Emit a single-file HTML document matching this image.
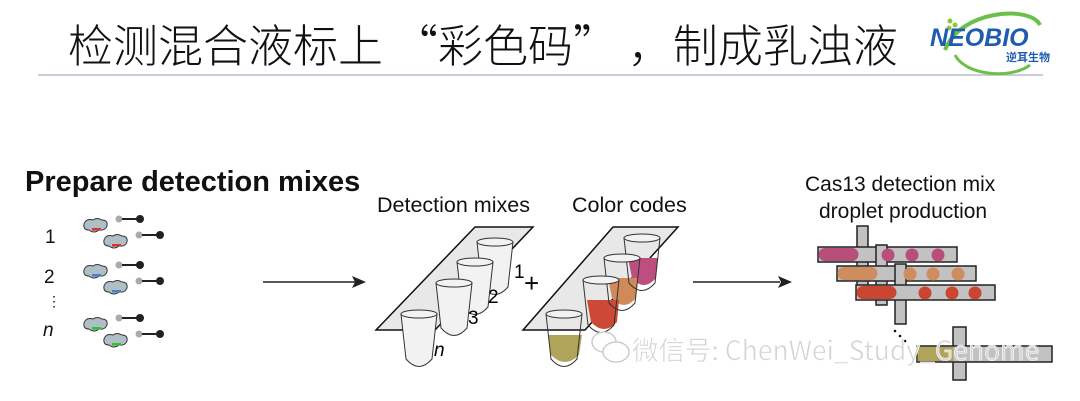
<!DOCTYPE html>
<html><head><meta charset="utf-8"><style>
html,body{margin:0;padding:0;background:#fff;}
svg{display:block;font-family:"Liberation Sans","Noto Sans CJK SC",sans-serif;}
</style></head><body>
<svg width="1080" height="401" viewBox="0 0 1080 401" xmlns="http://www.w3.org/2000/svg">
<text x="68" y="62" font-size="45" font-family="'Noto Sans CJK SC',sans-serif" font-weight="300" fill="#111">检测混合液标上 “彩色码” ，制成乳浊液</text>
<line x1="38" y1="75" x2="1043" y2="75" stroke="#b8bccc" stroke-width="1.5"/>
<!-- logo -->
<path d="M945,50 C960,10 1030,5 1040,25" fill="none" stroke="#6cc04a" stroke-width="4"/>
<path d="M955,55 C965,75 1010,80 1030,65" fill="none" stroke="#6cc04a" stroke-width="3"/>
<circle cx="950" cy="21" r="2.5" fill="#8cc63f"/><circle cx="955" cy="25" r="2.5" fill="#8cc63f"/><circle cx="949" cy="28" r="2.5" fill="#8cc63f"/>
<text x="930" y="46" font-size="25" font-weight="bold" font-style="italic" fill="#1f5bb0" letter-spacing="0">NEOBIO</text>
<text x="1006" y="61" font-size="11" font-weight="bold" fill="#1f5bb0" font-family="'Noto Sans CJK SC',sans-serif">逆耳生物</text>

<text x="25" y="191" font-size="29" font-weight="bold" fill="#111">Prepare detection mixes</text>
<g font-size="19" fill="#111">
<text x="45" y="243">1</text><text x="44" y="283">2</text>
<text x="47" y="306" font-size="14">⋮</text>
<text x="43" y="336" font-style="italic">n</text>
</g>
<g id="ic">
<path d="M84,224 q2,-6 9,-4 q4,-3 9,0 q6,0 5,6 q-2,5 -8,4 q-5,4 -10,0 q-6,0 -5,-6z" fill="#aebfc6" stroke="#333" stroke-width="1"/>
<circle cx="119" cy="219" r="3.5" fill="#aaa"/><line x1="122" y1="219" x2="139" y2="219" stroke="#222" stroke-width="2"/><circle cx="140" cy="219" r="4" fill="#222"/>
<path d="M104,240 q2,-6 9,-4 q4,-3 9,0 q6,0 5,6 q-2,5 -8,4 q-5,4 -10,0 q-6,0 -5,-6z" fill="#aebfc6" stroke="#333" stroke-width="1"/>
<circle cx="139" cy="235" r="3.5" fill="#aaa"/><line x1="142" y1="235" x2="158" y2="235" stroke="#222" stroke-width="2"/><circle cx="160" cy="235" r="4" fill="#222"/>
</g>
<rect x="92" y="228" width="9" height="2.5" fill="#e03030"/><rect x="112" y="244" width="9" height="2.5" fill="#e03030"/>
<use href="#ic" y="46"/><rect x="92" y="274" width="9" height="2.5" fill="#4a7fd0"/><rect x="112" y="290" width="9" height="2.5" fill="#4a7fd0"/>
<use href="#ic" y="99"/><rect x="92" y="327" width="9" height="2.5" fill="#30c030"/><rect x="112" y="343" width="9" height="2.5" fill="#30c030"/>

<line x1="263" y1="282" x2="355" y2="282" stroke="#222" stroke-width="1.5"/><path d="M366,282 l-14,-6 l3,6 l-3,6z" fill="#222"/>
<line x1="693" y1="282" x2="780" y2="282" stroke="#222" stroke-width="1.5"/><path d="M792,282 l-14,-6 l3,6 l-3,6z" fill="#222"/>

<text x="377" y="212" font-size="21.5" fill="#111">Detection mixes</text>
<text x="572" y="212" font-size="21.5" fill="#111">Color codes</text>
<text x="805" y="191" font-size="21" fill="#111">Cas13 detection mix</text>
<text x="819" y="218" font-size="21" fill="#111">droplet production</text>

<polygon points="376,330 475,227 533,227 435,330" fill="#e8e8e8" stroke="#111" stroke-width="1.5"/>
<g fill="#f2f2f2" stroke="#333" stroke-width="1">
<path d="M477,242 h36 l-5,45 q-13,15 -26,0z"/><ellipse cx="495" cy="242" rx="18" ry="4"/>
<path d="M457,262 h36 l-5,45 q-13,15 -26,0z"/><ellipse cx="475" cy="262" rx="18" ry="4"/>
<path d="M436,283 h36 l-5,45 q-13,15 -26,0z"/><ellipse cx="454" cy="283" rx="18" ry="4"/>
<path d="M401,314 h36 l-5,45 q-13,15 -26,0z"/><ellipse cx="419" cy="314" rx="18" ry="4"/>
</g>
<text x="514" y="278" font-size="19">1</text><text x="488" y="303" font-size="19">2</text><text x="468" y="324" font-size="19">3</text><text x="434" y="356" font-size="19" font-style="italic">n</text>
<text x="524" y="292" font-size="26">+</text>
<polygon points="523,330 613,227 678,227 585,330" fill="#e8e8e8" stroke="#111" stroke-width="1.5"/>
<path d="M628,258 h30 l-2,20 q-12,14 -24,0z" fill="#bc4f80"/>
<path d="M608,278 h30 l-2,20 q-12,14 -24,0z" fill="#d08a5a"/>
<path d="M587,300 h32 l-2,22 q-13,14 -26,0z" fill="#cc4a35"/>
<path d="M548,335 h34 l-3,20 q-14,14 -28,0z" fill="#b0a35a"/>
<g fill="none" stroke="#333" stroke-width="1">
<path d="M624,238 h36 l-5,45 q-13,15 -26,0z"/><ellipse cx="642" cy="238" rx="18" ry="4" fill="#f2f2f2"/>
<path d="M604,258 h36 l-5,45 q-13,15 -26,0z"/><ellipse cx="622" cy="258" rx="18" ry="4" fill="#f2f2f2"/>
<path d="M583,280 h36 l-5,45 q-13,15 -26,0z"/><ellipse cx="601" cy="280" rx="18" ry="4" fill="#f2f2f2"/>
<path d="M546,314 h36 l-5,45 q-13,15 -26,0z"/><ellipse cx="564" cy="314" rx="18" ry="4" fill="#f2f2f2"/>
</g>

<g stroke="#222" stroke-width="1.5" fill="#c2c2c2">
<rect x="857" y="226" width="11" height="60"/>
<rect x="818" y="247" width="139" height="15"/>
<rect x="876" y="245" width="11" height="60"/>
<rect x="837" y="266" width="139" height="15"/>
<rect x="895" y="264" width="11" height="60"/>
<rect x="856" y="285" width="139" height="15"/>
<rect x="953" y="327" width="13" height="53"/>
<rect x="917" y="346" width="135" height="16"/>
</g>
<g stroke="none">
<rect x="818.5" y="248" width="40" height="13" rx="6.5" fill="#b84e7c"/>
<circle cx="888" cy="255" r="6.5" fill="#b84e7c"/><circle cx="912" cy="255" r="6.5" fill="#b84e7c"/><circle cx="938" cy="255" r="6.5" fill="#b84e7c"/>
<rect x="837.5" y="267" width="40" height="13" rx="6.5" fill="#cf8c5e"/>
<circle cx="910" cy="274" r="6.5" fill="#cf8c5e"/><circle cx="933" cy="274" r="6.5" fill="#cf8c5e"/><circle cx="958" cy="274" r="6.5" fill="#cf8c5e"/>
<rect x="856.5" y="286" width="40" height="13" rx="6.5" fill="#cb4630"/>
<circle cx="925" cy="293" r="6.5" fill="#cb4630"/><circle cx="952" cy="293" r="6.5" fill="#cb4630"/><circle cx="975" cy="293" r="6.5" fill="#cb4630"/>
<rect x="917.5" y="347" width="36" height="14" fill="#b0a35a"/>
</g>
<circle cx="895" cy="331" r="1.3" fill="#111"/><circle cx="900" cy="336" r="1.3" fill="#111"/><circle cx="905" cy="341" r="1.3" fill="#111"/>

<g font-size="26.5" fill="#d4d4d4" stroke="#fff" stroke-width="0.6">
<text x="632" y="360" font-family="'Noto Sans CJK SC',sans-serif">微信号: ChenWei_Study_Genome</text>
</g>
<g fill="#fff" stroke="#ccc" stroke-width="1.5">
<ellipse cx="604" cy="342" rx="12" ry="10"/><ellipse cx="616" cy="352" rx="13" ry="10"/>
</g>
</svg>
</body></html>
